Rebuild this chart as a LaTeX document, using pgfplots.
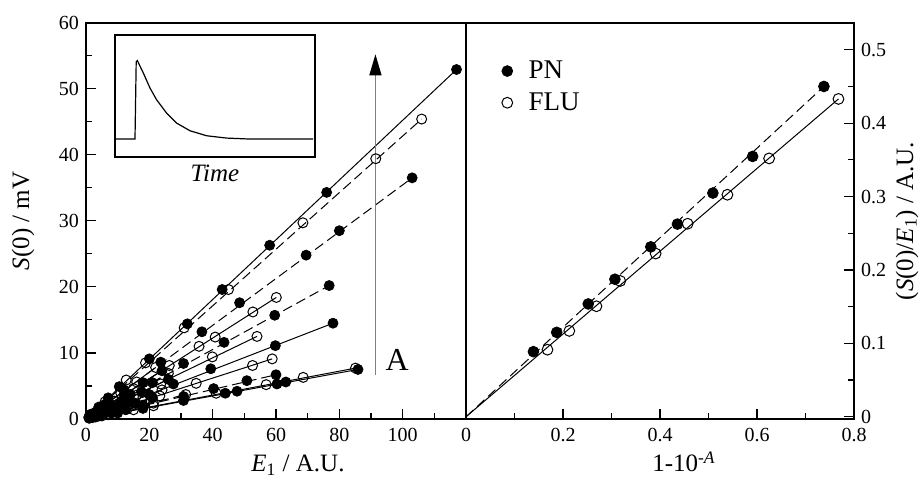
\documentclass[border=0pt]{standalone}
\usepackage{fontspec}
\setmainfont{Liberation Serif}
\usepackage{pgfplots}
\pgfplotsset{compat=1.18}
\usetikzlibrary{arrows.meta}

\pgfplotsset{
  panel/.style={
    scale only axis, height=198.2pt, clip=false,
    axis line style={line width=1pt},
    tick align=inside,
    major tick length=5pt, minor tick length=3pt,
    every tick/.style={line width=0.6pt, black},
    tick label style={font=\fontsize{10}{12}\selectfont},
    xticklabel style={yshift=-1pt},
    /pgf/number format/assume math mode=true,
  },
  pn/.style={only marks, mark=*, mark size=2.5pt, mark options={fill=black, draw=black, line width=0.4pt}},
  flu/.style={only marks, mark=o, mark size=2.5pt, mark options={draw=black, line width=0.5pt}},
  fit/.style={no marks, black, line width=0.5pt},
  fitd/.style={fit, dash pattern=on 5pt off 2.5pt},
}

\begin{document}
\begin{tikzpicture}
\useasboundingbox (-43pt,-30.5pt) rectangle (417pt,209.5pt);

% left panel: S(0) against E1
\begin{axis}[panel, at={(0pt,0pt)}, anchor=south west, width=190pt,
  xmin=0, xmax=120, ymin=0, ymax=60,
  xtick={0,20,40,60,80,100}, minor xtick={10,30,50,70,90,110},
  ytick={0,10,20,30,40,50,60}, minor ytick={5,15,25,35,45,55},
  xtick pos=bottom, ytick pos=left]
  % fitted lines
  \addplot[fit]  coordinates {(0,0) (117,52.9)};
  \addplot[fitd] coordinates {(0,0) (106,45.4)};
  \addplot[fitd] coordinates {(0,0) (103,36.5)};
  \addplot[fit]  coordinates {(0,0) (22,7.8)};
  \addplot[fit]  coordinates {(0,0) (24,7.3)};
  \addplot[fit]  coordinates {(0,0) (60.1,18.4)};
  \addplot[fitd] coordinates {(0,0) (76.8,20.2)};
  \addplot[fitd] coordinates {(0,0) (26,6.9)};
  \addplot[fit]  coordinates {(0,0) (26,6.0)};
  \addplot[fit]  coordinates {(0,0) (54,12.5)};
  \addplot[fit]  coordinates {(0,0) (78,14.5)};
  \addplot[fitd] coordinates {(0,0) (24,4.4)};
  \addplot[fit]  coordinates {(0,0) (21,3.2)};
  \addplot[fit]  coordinates {(0,0) (58.8,9.1)};
  \addplot[fitd] coordinates {(0,0) (60,6.7)};
  \addplot[fitd] coordinates {(0,0) (31.5,3.7)};
  \addplot[fit]  coordinates {(0,0) (85.9,7.5)};
  \addplot[fit]  coordinates {(0,0) (85.1,7.7)};
  % PN samples
  \addplot[pn] coordinates {(1.5,0.7) (4,1.8) (7,3.2) (10.5,4.9) (20,9.1) (32,14.4) (43,19.6) (58,26.3) (76,34.3) (117,52.9)};
  \addplot[pn] coordinates {(2,0.7) (6,2.2) (12,4.4) (23.6,8.6) (36.6,13.2) (48.5,17.6) (69.5,24.8) (80,28.5) (103,36.5)};
  \addplot[pn] coordinates {(1,0.3) (3.5,1.1) (7,2.1) (12,3.7) (18,5.5) (24,7.3)};
  \addplot[pn] coordinates {(1.5,0.4) (4,1.1) (8,2.1) (14,3.7) (21,5.5) (30.8,8.4) (43.6,11.6) (59.6,15.7) (76.8,20.2)};
  \addplot[pn] coordinates {(1,0.25) (3,0.7) (6.5,1.5) (11,2.6) (17.5,4.1) (26,6.0)};
  \addplot[pn] coordinates {(1.5,0.3) (5,0.9) (9,1.7) (13.5,2.5) (20,3.7) (27.6,5.3) (39.4,7.6) (59.8,11.1) (78,14.5)};
  \addplot[pn] coordinates {(1,0.15) (3,0.5) (6,0.9) (10,1.5) (15.5,2.4) (21,3.2)};
  \addplot[pn] coordinates {(1.5,0.2) (4,0.45) (8,0.9) (12.5,1.4) (18,2.1) (30.8,3.4) (40.3,4.6) (50.8,5.8) (60,6.7)};
  \addplot[pn] coordinates {(2,0.2) (5,0.45) (10,0.9) (18,1.6) (30.8,2.8) (44,3.9) (47.7,4.2) (60.3,5.3) (63.1,5.6) (85.9,7.5)};
  % FLU samples
  \addplot[flu] coordinates {(1.5,0.7) (6,2.6) (12.7,5.9) (18.8,8.5) (31,13.8) (45,19.6) (68.5,29.7) (91.5,39.4) (106,45.4)};
  \addplot[flu] coordinates {(1,0.35) (3,1.0) (6.5,2.3) (11,3.9) (16,5.6) (22,7.8)};
  \addplot[flu] coordinates {(2,0.6) (5,1.5) (9,2.7) (15,4.6) (26.3,8.1) (35.7,11.0) (40.8,12.4) (52.7,16.2) (60.1,18.4)};
  \addplot[flu] coordinates {(1,0.3) (4,1.05) (8,2.1) (13,3.4) (19,5.0) (26,6.9)};
  \addplot[flu] coordinates {(1.5,0.35) (5,1.1) (10,2.2) (16,3.6) (23.6,5.3) (39.9,9.4) (54,12.5)};
  \addplot[flu] coordinates {(1,0.2) (3,0.55) (7,1.3) (12,2.2) (18,3.3) (24,4.4)};
  \addplot[flu] coordinates {(2,0.3) (5.5,0.8) (10,1.5) (15,2.2) (23.3,3.5) (34.8,5.4) (52.6,8.1) (58.8,9.1)};
  \addplot[flu] coordinates {(1,0.12) (4,0.5) (8,0.95) (13,1.5) (21.3,2.4) (31.5,3.7)};
  \addplot[flu] coordinates {(3,0.3) (7,0.65) (15,1.4) (21.3,2.0) (41.1,3.9) (56.9,5.2) (68.6,6.3) (85.1,7.7)};
  % absorbance arrow
  \draw[black!50, line width=0.7pt, -{Triangle[length=10.5pt,width=6pt,black]}]
    (axis cs:91.4,6.7) -- (axis cs:91.4,55.2);
  \node[font=\fontsize{16}{18}\selectfont] at (axis cs:98.3,8.9) {A};
\end{axis}

% inset: signal against time
\begin{axis}[at={(14.5pt,131pt)}, anchor=south west, scale only axis,
  width=100pt, height=61pt, xmin=0, xmax=100, ymin=0, ymax=100,
  ticks=none, axis line style={line width=1pt}]
  \addplot[no marks, black, line width=0.6pt] coordinates {
    (0,14.7) (10,14.7) (10.6,78) (11.2,79) (12.5,74.5) (14.2,68.7) (17.5,56.5)
    (20.8,46.9) (25.8,36.0) (30.8,27.8) (37.5,21.5) (45.8,17.4) (55.8,15.5)
    (67.5,14.7) (99,14.7)};
\end{axis}
\node[font=\fontsize{12.5}{15}\selectfont\itshape] at (64.5pt,123pt) {Time};

% right panel: S(0)/E1 against 1-10^-A
\begin{axis}[panel, at={(190pt,0pt)}, anchor=south west, width=194pt,
  xmin=0, xmax=0.8, ymin=-0.003, ymax=0.537,
  xtick={0,0.2,0.4,0.6,0.8}, minor xtick={0.1,0.3,0.5,0.7},
  ytick={0,0.1,0.2,0.3,0.4,0.5}, minor ytick={0.05,0.15,0.25,0.35,0.45},
  xtick pos=bottom, ytick pos=right, yticklabel pos=right,
  legend style={draw=none, fill=none, at={(0.076,0.925)}, anchor=north west,
    font=\fontsize{13.5}{15}\selectfont, row sep=1.5pt},
  legend cell align=left]
  \addplot[pn, mark size=2.7pt] coordinates {
    (0.139,0.0887) (0.187,0.115) (0.252,0.1537) (0.307,0.1874) (0.381,0.2315)
    (0.436,0.2625) (0.509,0.3048) (0.591,0.3547) (0.738,0.450)};
  \addlegendentry{\hspace{6pt}PN}
  \addplot[flu, mark size=2.7pt] coordinates {
    (0.168,0.0914) (0.213,0.117) (0.269,0.1506) (0.318,0.185) (0.391,0.2224)
    (0.457,0.263) (0.539,0.3025) (0.625,0.352) (0.768,0.433)};
  \addlegendentry{\hspace{6pt}FLU}
  \addplot[fitd, forget plot] coordinates {(0,0) (0.738,0.450)};
  \addplot[fit, forget plot] coordinates {(0,0) (0.768,0.433)};
\end{axis}

% axis titles
\node[rotate=90, font=\fontsize{12.5}{15}\selectfont] at (-31.5pt,99pt) {\textit{S}(0) / mV};
\node[anchor=base, font=\fontsize{12.5}{15}\selectfont] at (106pt,-26.5pt) {\textit{E}\textsubscript{1} / A.U.};
\node[anchor=base, font=\fontsize{12.5}{15}\selectfont] at (299pt,-26.5pt) {1-10\textsuperscript{-\textit{A}}};
\node[rotate=90, font=\fontsize{12.5}{15}\selectfont] at (410.5pt,99pt) {(\textit{S}(0)/\textit{E}\textsubscript{1}) / A.U.};
\end{tikzpicture}
\end{document}
